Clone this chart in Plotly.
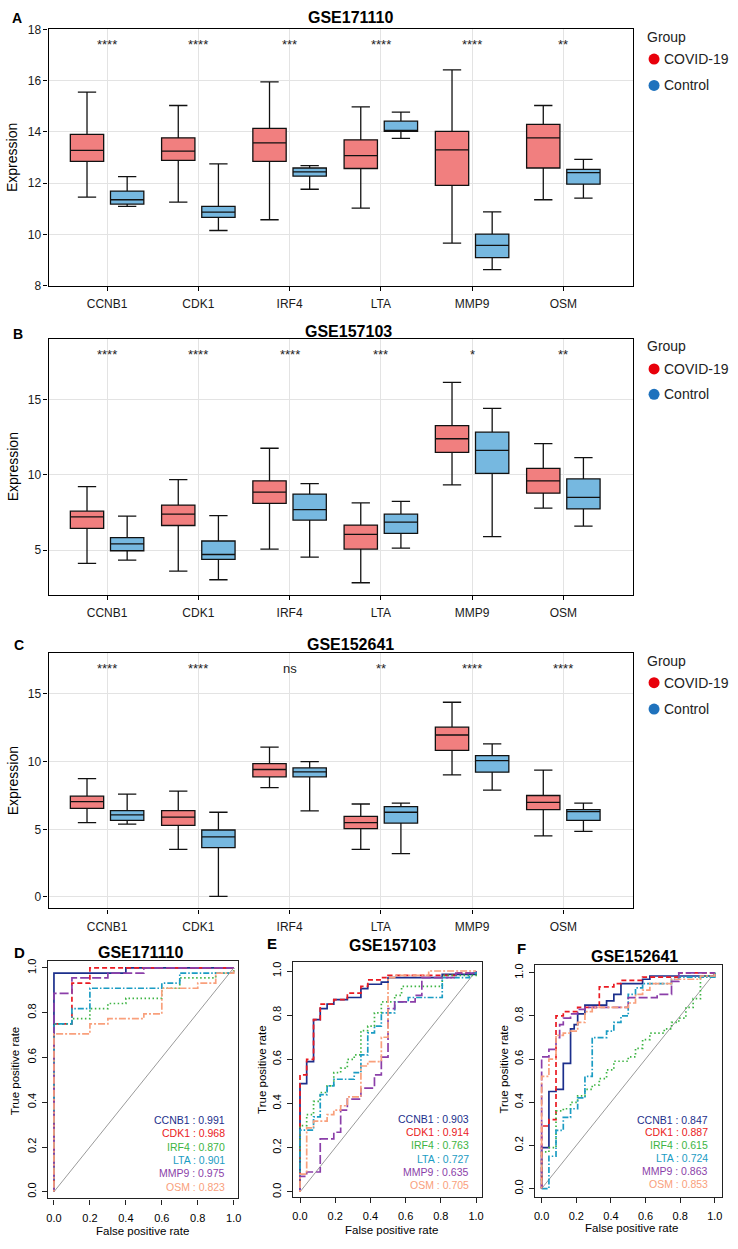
import plotly.graph_objects as go

W, H = 738, 1249
FONT = "Arial, Liberation Sans, Helvetica, sans-serif"


def fx(px):
    return px / W


def fy(py):
    return 1 - py / H


# ---------------- data ----------------
genes = ["CCNB1", "CDK1", "IRF4", "LTA", "MMP9", "OSM"]
groups = ["COVID-19", "Control"]

# GSE171110 box statistics
A_covid_upper = [15.55, 15.03, 15.95, 14.98, 16.42, 15.03]
A_covid_q3 = [13.90, 13.77, 14.14, 13.69, 14.02, 14.29]
A_covid_med = [13.28, 13.25, 13.57, 13.07, 13.30, 13.77]
A_covid_q1 = [12.85, 12.89, 12.85, 12.57, 11.91, 12.59]
A_covid_lower = [11.45, 11.26, 10.57, 11.02, 9.66, 11.35]
A_ctrl_upper = [12.25, 12.75, 12.68, 14.77, 10.88, 12.93]
A_ctrl_q3 = [11.69, 11.09, 12.59, 14.42, 10.01, 12.54]
A_ctrl_med = [11.35, 10.87, 12.44, 14.05, 9.57, 12.41]
A_ctrl_q1 = [11.18, 10.66, 12.27, 14.02, 9.09, 11.96]
A_ctrl_lower = [11.09, 10.15, 11.76, 13.75, 8.62, 11.41]
A_sig = ["****", "****", "***", "****", "****", "**"]

# GSE157103 box statistics
B_covid_upper = [9.23, 9.69, 11.78, 8.14, 16.16, 12.08]
B_covid_q3 = [7.59, 8.00, 9.61, 6.67, 13.29, 10.44]
B_covid_med = [7.21, 7.39, 8.86, 6.05, 12.41, 9.61]
B_covid_q1 = [6.45, 6.64, 8.11, 5.07, 11.51, 8.79]
B_covid_lower = [4.12, 3.60, 5.07, 2.83, 9.34, 7.79]
B_ctrl_upper = [7.26, 7.30, 9.43, 8.25, 14.43, 11.16]
B_ctrl_q3 = [5.83, 5.61, 8.73, 7.39, 12.85, 9.74]
B_ctrl_med = [5.42, 4.71, 7.70, 6.86, 11.64, 8.51]
B_ctrl_q1 = [4.96, 4.39, 7.00, 6.12, 10.11, 7.74]
B_ctrl_lower = [4.34, 3.03, 4.54, 5.13, 5.90, 6.60]
B_sig = ["****", "****", "****", "***", "*", "**"]

# GSE152641 box statistics
C_covid_upper = [8.74, 7.82, 11.07, 6.87, 14.39, 9.37]
C_covid_q3 = [7.45, 6.38, 9.85, 5.95, 12.55, 7.50]
C_covid_med = [7.04, 5.90, 9.42, 5.49, 11.97, 6.99]
C_covid_q1 = [6.55, 5.29, 8.88, 5.05, 10.83, 6.46]
C_covid_lower = [5.49, 3.52, 8.08, 3.52, 9.03, 4.51]
C_ctrl_upper = [7.60, 6.26, 10.00, 6.94, 11.31, 6.94]
C_ctrl_q3 = [6.38, 4.95, 9.54, 6.67, 10.44, 6.46]
C_ctrl_med = [6.07, 4.44, 9.25, 6.26, 10.07, 6.31]
C_ctrl_q1 = [5.66, 3.64, 8.88, 5.46, 9.22, 5.66]
C_ctrl_lower = [5.39, 0.05, 6.36, 3.20, 7.89, 4.85]
C_sig = ["****", "****", "ns", "**", "****", "****"]

# ROC curves (step corners: false positive rate, true positive rate)
D_CCNB1_fpr = [0, 0, 0.4, 1.0]
D_CCNB1_tpr = [0, 0.977, 1.0, 1.0]
D_CDK1_fpr = [0, 0, 0.1, 0.2, 1.0]
D_CDK1_tpr = [0, 0.75, 0.932, 1.0, 1.0]
D_IRF4_fpr = [0, 0, 0.1, 0.2, 0.3, 0.4, 0.6, 0.7, 0.9, 1.0]
D_IRF4_tpr = [0, 0.75, 0.773, 0.818, 0.841, 0.864, 0.909, 0.955, 0.977, 1.0]
D_LTA_fpr = [0, 0, 0.1, 0.2, 0.6, 0.7, 1.0]
D_LTA_tpr = [0, 0.75, 0.818, 0.909, 0.932, 0.977, 1.0]
D_MMP9_fpr = [0, 0, 0.1, 0.3, 0.5, 1.0]
D_MMP9_tpr = [0, 0.886, 0.955, 0.977, 1.0, 1.0]
D_OSM_fpr = [0, 0, 0.2, 0.3, 0.5, 0.6, 0.8, 0.9, 1.0]
D_OSM_tpr = [0, 0.705, 0.75, 0.773, 0.795, 0.909, 0.932, 0.977, 1.0]
D_auc = [0.991, 0.968, 0.870, 0.901, 0.975, 0.823]

E_CCNB1_fpr = [0, 0, 0.038, 0.077, 0.115, 0.154, 0.192, 0.269, 0.346, 0.385, 0.462, 0.5, 0.808, 1.0]
E_CCNB1_tpr = [0, 0.49, 0.59, 0.78, 0.83, 0.85, 0.87, 0.88, 0.92, 0.94, 0.95, 0.97, 0.985, 1.0]
E_CDK1_fpr = [0, 0, 0.038, 0.077, 0.115, 0.192, 0.269, 0.346, 0.385, 0.462, 0.5, 0.885, 1.0]
E_CDK1_tpr = [0, 0.53, 0.60, 0.78, 0.85, 0.87, 0.90, 0.93, 0.96, 0.97, 0.98, 0.99, 1.0]
E_IRF4_fpr = [0, 0, 0.038, 0.077, 0.115, 0.154, 0.192, 0.231, 0.269, 0.308, 0.346, 0.385, 0.423, 0.462, 0.538, 0.577, 0.808, 1.0]
E_IRF4_tpr = [0, 0.30, 0.35, 0.41, 0.45, 0.48, 0.54, 0.56, 0.60, 0.62, 0.73, 0.75, 0.81, 0.86, 0.89, 0.93, 0.98, 1.0]
E_LTA_fpr = [0, 0, 0.077, 0.115, 0.154, 0.192, 0.308, 0.346, 0.385, 0.423, 0.462, 0.538, 0.615, 0.808, 0.962, 1.0]
E_LTA_tpr = [0, 0.28, 0.34, 0.44, 0.48, 0.51, 0.54, 0.62, 0.72, 0.75, 0.81, 0.86, 0.88, 0.97, 0.99, 1.0]
E_MMP9_fpr = [0, 0, 0.038, 0.115, 0.192, 0.231, 0.269, 0.346, 0.423, 0.462, 0.5, 0.538, 0.654, 0.692, 0.885, 1.0]
E_MMP9_tpr = [0, 0.07, 0.09, 0.24, 0.27, 0.37, 0.42, 0.47, 0.53, 0.61, 0.83, 0.86, 0.89, 0.97, 0.99, 1.0]
E_OSM_fpr = [0, 0, 0.038, 0.077, 0.154, 0.192, 0.231, 0.269, 0.346, 0.385, 0.462, 0.5, 0.538, 0.731, 1.0]
E_OSM_tpr = [0, 0.08, 0.29, 0.32, 0.35, 0.37, 0.39, 0.43, 0.57, 0.59, 0.70, 0.97, 0.98, 1.0, 1.0]
E_auc = [0.903, 0.914, 0.763, 0.727, 0.635, 0.705]

F_CCNB1_fpr = [0, 0, 0.042, 0.083, 0.125, 0.167, 0.188, 0.208, 0.25, 0.375, 0.417, 0.458, 0.583, 0.625, 1.0]
F_CCNB1_tpr = [0, 0.19, 0.45, 0.46, 0.58, 0.74, 0.76, 0.81, 0.85, 0.87, 0.90, 0.95, 0.97, 0.985, 1.0]
F_CDK1_fpr = [0, 0, 0.042, 0.083, 0.125, 0.208, 0.333, 0.417, 0.458, 0.583, 0.792, 1.0]
F_CDK1_tpr = [0, 0.29, 0.32, 0.80, 0.82, 0.84, 0.935, 0.95, 0.965, 0.98, 1.0, 1.0]
F_IRF4_fpr = [0, 0, 0.042, 0.083, 0.125, 0.167, 0.208, 0.25, 0.292, 0.333, 0.375, 0.417, 0.5, 0.542, 0.583, 0.625, 0.708, 0.75, 0.792, 0.833, 0.875, 0.917, 1.0]
F_IRF4_tpr = [0, 0.17, 0.19, 0.36, 0.37, 0.40, 0.43, 0.46, 0.48, 0.51, 0.55, 0.59, 0.61, 0.65, 0.69, 0.72, 0.74, 0.77, 0.79, 0.84, 0.88, 0.985, 1.0]
F_LTA_fpr = [0, 0.042, 0.083, 0.125, 0.167, 0.208, 0.25, 0.292, 0.375, 0.417, 0.458, 0.5, 0.542, 0.583, 0.75, 0.792, 1.0]
F_LTA_tpr = [0, 0.15, 0.27, 0.33, 0.37, 0.42, 0.52, 0.70, 0.73, 0.77, 0.80, 0.90, 0.93, 0.95, 0.97, 0.98, 1.0]
F_MMP9_fpr = [0, 0, 0.042, 0.083, 0.104, 0.125, 0.167, 0.208, 0.25, 0.5, 0.667, 0.75, 0.792, 1.0]
F_MMP9_tpr = [0, 0.61, 0.645, 0.70, 0.76, 0.79, 0.81, 0.83, 0.84, 0.885, 0.90, 0.96, 1.0, 1.0]
F_OSM_fpr = [0, 0, 0.042, 0.083, 0.125, 0.167, 0.208, 0.25, 0.292, 0.5, 0.542, 0.583, 0.625, 0.75, 0.917, 1.0]
F_OSM_tpr = [0, 0.52, 0.60, 0.71, 0.72, 0.73, 0.77, 0.82, 0.84, 0.86, 0.90, 0.92, 0.95, 0.97, 0.985, 1.0]
F_auc = [0.847, 0.887, 0.615, 0.724, 0.863, 0.853]

# ---------------- styles ----------------
covid_fill = "#F17F7F"
ctrl_fill = "#76B8E0"
covid_dot = "#E8000B"
ctrl_dot = "#1F72BD"
roc_colors = ["#1C2F8C", "#EA1A22", "#3DB443", "#1B9CC3", "#8B3FA9", "#F9A07C"]
roc_dashes = ["solid", "5px,3px", "1.5px,2.5px", "6px,2px,1.5px,2px", "9px,3px", "2px,2px,7px,2px"]

fig = go.Figure()
annotations = []
shapes = []

box_panels = [
    dict(xa="x", ya="y", title="GSE171110", letter="A",
         covid=(A_covid_lower, A_covid_q1, A_covid_med, A_covid_q3, A_covid_upper),
         ctrl=(A_ctrl_lower, A_ctrl_q1, A_ctrl_med, A_ctrl_q3, A_ctrl_upper),
         sig=A_sig, sig_y=17.4, yrange=[8, 18], ticks=[8, 10, 12, 14, 16, 18],
         top=22.7, bot=281.7, title_y=11, letter_xy=(15, 11), title_x=351,
         leg=(30, 52.7, 79.3)),
    dict(xa="x2", ya="y2", title="GSE157103", letter="B",
         covid=(B_covid_lower, B_covid_q1, B_covid_med, B_covid_q3, B_covid_upper),
         ctrl=(B_ctrl_lower, B_ctrl_q1, B_ctrl_med, B_ctrl_q3, B_ctrl_upper),
         sig=B_sig, sig_y=18.0, yrange=[2.04, 19.05], ticks=[5, 10, 15],
         top=335.7, bot=594.3, title_y=328, letter_xy=(16.5, 331), title_x=349,
         leg=(343.3, 366, 391.7)),
    dict(xa="x3", ya="y3", title="GSE152641", letter="C",
         covid=(C_covid_lower, C_covid_q1, C_covid_med, C_covid_q3, C_covid_upper),
         ctrl=(C_ctrl_lower, C_ctrl_q1, C_ctrl_med, C_ctrl_q3, C_ctrl_upper),
         sig=C_sig, sig_y=16.9, yrange=[-0.85, 18.03], ticks=[0, 5, 10, 15],
         top=653.3, bot=911.7, title_y=645, letter_xy=(17.4, 645), title_x=351,
         leg=(661, 683.3, 710)),
]

BOX_L, BOX_R = 47, 635
layout_axes = {}
for i, p in enumerate(box_panels):
    for grp, stats, fill in (("covid", p["covid"], covid_fill), ("ctrl", p["ctrl"], ctrl_fill)):
        lo, q1, med, q3, up = stats
        fig.add_trace(go.Box(
            x=genes, lowerfence=lo, q1=q1, median=med, q3=q3, upperfence=up,
            name=groups[0] if grp == "covid" else groups[1],
            offsetgroup=grp, fillcolor=fill,
            line=dict(color="#111111", width=1.3), whiskerwidth=0.55,
            boxpoints=False, showlegend=False, hoverinfo="skip",
            xaxis=p["xa"], yaxis=p["ya"]))
    sfx = "" if i == 0 else str(i + 1)
    layout_axes["xaxis" + sfx] = dict(
        domain=[fx(BOX_L), fx(BOX_R)], anchor=p["ya"], type="category",
        categoryorder="array", categoryarray=genes, range=[-0.64, 5.76],
        showline=True, linecolor="black", linewidth=1.4, mirror=True,
        ticks="outside", ticklen=4, tickcolor="black", tickwidth=1.2,
        showgrid=True, gridcolor="#E3E3E3", gridwidth=1, zeroline=False,
        ticklabelstandoff=3,
        tickfont=dict(size=12, color="#1a1a1a", family=FONT))
    layout_axes["yaxis" + sfx] = dict(
        domain=[fy(p["bot"]), fy(p["top"])], anchor=p["xa"], range=p["yrange"],
        tickvals=p["ticks"], showline=True, linecolor="black", linewidth=1.4,
        mirror=True, ticks="outside", ticklen=4, tickcolor="black", tickwidth=1.2,
        showgrid=True, gridcolor="#E3E3E3", gridwidth=1, zeroline=False,
        tickfont=dict(size=12, color="#1a1a1a", family=FONT))
    # significance labels
    for g, s in zip(genes, p["sig"]):
        annotations.append(dict(x=g, y=p["sig_y"], xref=p["xa"], yref=p["ya"], text=s,
                                showarrow=False, font=dict(size=13, color="#222", family=FONT),
                                xanchor="center", yanchor="middle"))
    # title & letter
    annotations.append(dict(x=fx(p["title_x"]), y=fy(p["title_y"]), xref="paper", yref="paper",
                            text="<b>%s</b>" % p["title"], showarrow=False,
                            font=dict(size=16, color="black", family=FONT),
                            xanchor="center", yanchor="middle"))
    annotations.append(dict(x=fx(p["letter_xy"][0]), y=fy(p["letter_xy"][1]), xref="paper",
                            yref="paper", text="<b>%s</b>" % p["letter"], showarrow=False,
                            font=dict(size=14, color="black", family=FONT),
                            xanchor="center", yanchor="middle"))
    # y title
    annotations.append(dict(x=fx(10.6), y=fy((p["top"] + p["bot"]) / 2), xref="paper",
                            yref="paper", text="Expression", textangle=-90, showarrow=False,
                            font=dict(size=14, color="black", family=FONT),
                            xanchor="center", yanchor="middle"))
    # legend
    gy, cy1, cy2 = p["leg"]
    annotations.append(dict(x=fx(647), y=fy(gy), xref="paper", yref="paper", text="Group",
                            showarrow=False, font=dict(size=14, color="#222", family=FONT),
                            xanchor="left", yanchor="middle"))
    for yy, lab, col in ((cy1, groups[0], covid_dot), (cy2, groups[1], ctrl_dot)):
        shapes.append(dict(type="circle", xref="paper", yref="paper", xsizemode="pixel",
                           ysizemode="pixel", xanchor=fx(656.5), yanchor=fy(yy),
                           x0=-5.5, x1=5.5, y0=-5.5, y1=5.5, fillcolor=col,
                           line=dict(width=0)))
        annotations.append(dict(x=fx(664.5), y=fy(yy), xref="paper", yref="paper", text=lab,
                                showarrow=False, font=dict(size=14, color="#222", family=FONT),
                                xanchor="left", yanchor="middle"))

roc_panels = [
    dict(xa="x4", ya="y4", title="GSE171110", letter="D", auc=D_auc,
         curves=[(D_CCNB1_fpr, D_CCNB1_tpr), (D_CDK1_fpr, D_CDK1_tpr), (D_IRF4_fpr, D_IRF4_tpr),
                 (D_LTA_fpr, D_LTA_tpr), (D_MMP9_fpr, D_MMP9_tpr), (D_OSM_fpr, D_OSM_tpr)],
         box=(46.7, 238, 965, 1205), xr=[-0.031, 1.026], yr=[-0.03, 1.03],
         title_xy=(140, 956), letter_xy=(18, 956), xt_xy=(141, 1238), yt_xy=(13.3, 1076),
         leg_x=0.965, leg_y=0.322),
    dict(xa="x5", ya="y5", title="GSE157103", letter="E", auc=E_auc,
         curves=[(E_CCNB1_fpr, E_CCNB1_tpr), (E_CDK1_fpr, E_CDK1_tpr), (E_IRF4_fpr, E_IRF4_tpr),
                 (E_LTA_fpr, E_LTA_tpr), (E_MMP9_fpr, E_MMP9_tpr), (E_OSM_fpr, E_OSM_tpr)],
         box=(293.3, 483.3, 966, 1203), xr=[-0.038, 1.034], yr=[-0.021, 1.04],
         title_xy=(393, 949), letter_xy=(271.7, 947), xt_xy=(392, 1236.7), yt_xy=(261.7, 1075),
         leg_x=0.97, leg_y=0.331),
    dict(xa="x6", ya="y6", title="GSE152641", letter="F", auc=F_auc,
         curves=[(F_CCNB1_fpr, F_CCNB1_tpr), (F_CDK1_fpr, F_CDK1_tpr), (F_IRF4_fpr, F_IRF4_tpr),
                 (F_LTA_fpr, F_LTA_tpr), (F_MMP9_fpr, F_MMP9_tpr), (F_OSM_fpr, F_OSM_tpr)],
         box=(536.7, 725, 969.3, 1203.3), xr=[-0.038, 1.042], yr=[-0.038, 1.034],
         title_xy=(637, 960.7), letter_xy=(523, 951.7), xt_xy=(634, 1235), yt_xy=(505, 1075),
         leg_x=0.97, leg_y=0.32),
]

roc_ticks = [0, 0.2, 0.4, 0.6, 0.8, 1.0]
for j, p in enumerate(roc_panels):
    l, r, t, b = p["box"]
    sfx = str(j + 4)
    shapes.append(dict(type="line", xref=p["xa"], yref=p["ya"], x0=0, y0=0, x1=1, y1=1,
                       line=dict(color="#9a9a9a", width=1), layer="below"))
    for k, (fpr, tpr) in enumerate(p["curves"]):
        fig.add_trace(go.Scatter(
            x=fpr, y=tpr, mode="lines", xaxis=p["xa"], yaxis=p["ya"],
            line=dict(color=roc_colors[k], width=1.7, shape="hv", dash=roc_dashes[k]),
            showlegend=False, hoverinfo="skip"))
    for k, g in enumerate(genes):
        annotations.append(dict(x=p["leg_x"], y=p["leg_y"] - 0.06 * k, xref=p["xa"], yref=p["ya"],
                                text="%s : %.3f" % (g, p["auc"][k]), showarrow=False,
                                font=dict(size=10.5, color=roc_colors[k], family=FONT),
                                xanchor="right", yanchor="middle"))
    layout_axes["xaxis" + sfx] = dict(
        domain=[fx(l), fx(r)], anchor=p["ya"], range=p["xr"], tickvals=roc_ticks,
        ticktext=["%.1f" % v for v in roc_ticks], showline=True, linecolor="#222",
        linewidth=1.2, mirror=True, ticks="outside", ticklen=5, tickcolor="#222",
        ticklabelstandoff=4,
        showgrid=False, zeroline=False, tickfont=dict(size=11, color="black", family=FONT))
    layout_axes["yaxis" + sfx] = dict(
        domain=[fy(b), fy(t)], anchor=p["xa"], range=p["yr"], tickvals=roc_ticks,
        ticktext=["%.1f" % v for v in roc_ticks], showline=True, linecolor="#222",
        linewidth=1.2, mirror=True, ticks="outside", ticklen=5, tickcolor="#222",
        tickangle=-90, ticklabelstandoff=2, showgrid=False, zeroline=False,
        tickfont=dict(size=11, color="black", family=FONT))
    annotations.append(dict(x=fx(p["title_xy"][0]), y=fy(p["title_xy"][1]), xref="paper",
                            yref="paper", text="<b>%s</b>" % p["title"], showarrow=False,
                            font=dict(size=16, color="black", family=FONT),
                            xanchor="center", yanchor="middle"))
    annotations.append(dict(x=fx(p["letter_xy"][0]), y=fy(p["letter_xy"][1]), xref="paper",
                            yref="paper", text="<b>%s</b>" % p["letter"], showarrow=False,
                            font=dict(size=15, color="black", family=FONT),
                            xanchor="center", yanchor="middle"))
    annotations.append(dict(x=fx(p["xt_xy"][0]), y=fy(p["xt_xy"][1]), xref="paper",
                            yref="paper", text="False positive rate", showarrow=False,
                            font=dict(size=11.5, color="black", family=FONT),
                            xanchor="center", yanchor="middle"))
    annotations.append(dict(x=fx(p["yt_xy"][0]), y=fy(p["yt_xy"][1]), xref="paper",
                            yref="paper", text="True positive rate", textangle=-90,
                            showarrow=False, font=dict(size=11.5, color="black", family=FONT),
                            xanchor="center", yanchor="middle"))

fig.update_layout(
    width=W, height=H, margin=dict(l=0, r=0, t=0, b=0),
    paper_bgcolor="white", plot_bgcolor="white",
    boxmode="group", boxgap=0.12, boxgroupgap=0.17,
    showlegend=False, font=dict(family=FONT),
    annotations=annotations, shapes=shapes, **layout_axes)

fig.write_html("out.html")
